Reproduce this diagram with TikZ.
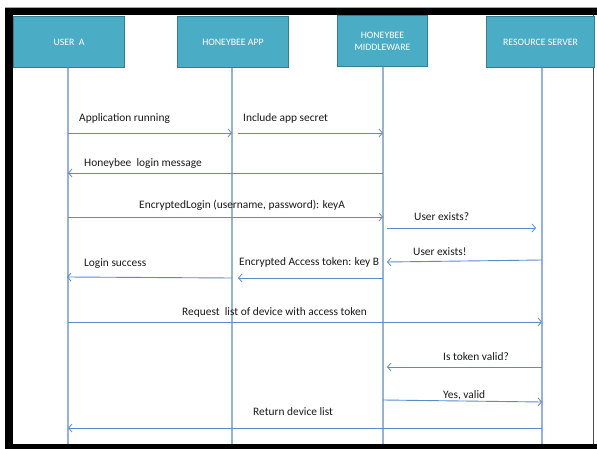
\documentclass[tikz,border=0pt]{standalone}
\usepackage{fontspec}
\setmainfont{Carlito}
\usetikzlibrary{arrows.meta}
\definecolor{boxfill}{HTML}{4BACC6}
\definecolor{boxedge}{HTML}{357D91}
\definecolor{lifec}{HTML}{95B3D7}
\definecolor{msgc}{HTML}{5B8BCB}
\tikzset{
  actor/.style={draw=boxedge, line width=1pt, fill=boxfill, text=white, font=\fontsize{9.8}{11}\selectfont,
    align=center, inner sep=0pt, anchor=north west},
  life/.style={draw=lifec, line width=1.2pt},
  msg/.style={draw=msgc, line width=0.9pt, -{Straight Barb[length=3.5pt,width=8pt,line width=0.8pt]}},
  lbl/.style={font=\fontsize{11.4}{13}\selectfont, text=black!90, anchor=west, inner sep=0pt, yshift=-1.5pt}
}
\begin{document}
\begin{tikzpicture}[x=1pt,y=-1pt]
\useasboundingbox (0,0) rectangle (597,449);
% frame
\fill[white] (0,0) rectangle (597,449);
\fill[black] (5,8) rectangle (597,15.5);
\fill[black] (5,8) rectangle (13,449);
\fill[black] (5,443.5) rectangle (597,449);
\draw[gray!70, line width=0.8pt] (5,7.2) -- (597,7.2);
\draw[gray!60!black, line width=1.2pt] (593.5,15) -- (593.5,443.5);
% actors
\node[actor, minimum width=111pt, minimum height=51pt] (ua) at (13,16) {USER\ \ A};
\node[actor, minimum width=111pt, minimum height=51pt] (app) at (177,16) {HONEYBEE APP};
\node[actor, minimum width=90pt, minimum height=51pt] (mw) at (337,15) {HONEYBEE\\[1pt]MIDDLEWARE};
\node[actor, minimum width=108pt, minimum height=51pt] (rs) at (486,16) {RESOURCE SERVER};
% lifeline ends
\coordinate (uaE) at (68,443.5);
\coordinate (appE) at (232,443.5);
\coordinate (mwE) at (383,443.5);
\coordinate (rsE) at (542,443.5);
\draw[life] (ua.south -| uaE) -- (uaE);
\draw[life] (app.south -| appE) -- (appE);
\draw[life] (mw.south -| mwE) -- (mwE);
\draw[life] (rs.south -| rsE) -- (rsE);
% message end points
\coordinate (m1a) at (68,133); \coordinate (m1b) at (232,133);
\coordinate (m2a) at (238,133); \coordinate (m2b) at (383,133);
\coordinate (m3a) at (383,173); \coordinate (m3b) at (68,173);
\coordinate (m4a) at (68,217); \coordinate (m4b) at (383,217);
\coordinate (m5a) at (387,228); \coordinate (m5b) at (536,228);
\coordinate (m6a) at (542,260); \coordinate (m6b) at (387,262);
\coordinate (m7a) at (383,278); \coordinate (m7b) at (238,278);
\coordinate (m8a) at (232,278); \coordinate (m8b) at (67,277);
\coordinate (m9a) at (68,322); \coordinate (m9b) at (542,322);
\coordinate (m10a) at (542,367); \coordinate (m10b) at (387,367);
\coordinate (m11a) at (383,400); \coordinate (m11b) at (542,402);
\coordinate (m12a) at (542,428); \coordinate (m12b) at (68,428);
\draw[msg] (m1a) -- (m1b);
\draw[msg] (m2a) -- (m2b);
\draw[msg] (m3a) -- (m3b);
\draw[msg] (m4a) -- (m4b);
\draw[msg] (m5a) -- (m5b);
\draw[msg] (m6a) -- (m6b);
\draw[msg] (m7a) -- (m7b);
\draw[msg] (m8a) -- (m8b);
\draw[msg] (m9a) -- (m9b);
\draw[msg] (m10a) -- (m10b);
\draw[msg] (m11a) -- (m11b);
\draw[msg] (m12a) -- (m12b);
% labels
\node[lbl] (l1) at (79,117) {Application running};
\node[lbl] (l2) at (243,117) {Include app secret};
\node[lbl] (l3) at (84,162) {Honeybee\ \ login message};
\node[lbl] (l4) at (139,204) {EncryptedLogin (username, password): keyA};
\node[lbl] (l5) at (414,215) {User exists?};
\node[lbl] (l6) at (413,250) {User exists!};
\node[lbl] (l7) at (239,261) {Encrypted Access token: key B};
\node[lbl] (l8) at (84,262) {Login success};
\node[lbl] (l9) at (182,311) {Request\ \ list of device with access token};
\node[lbl] (l10) at (443,355) {Is token valid?};
\node[lbl] (l11) at (443,394) {Yes, valid};
\node[lbl] (l12) at (253,410) {Return device list};
\end{tikzpicture}
\end{document}
